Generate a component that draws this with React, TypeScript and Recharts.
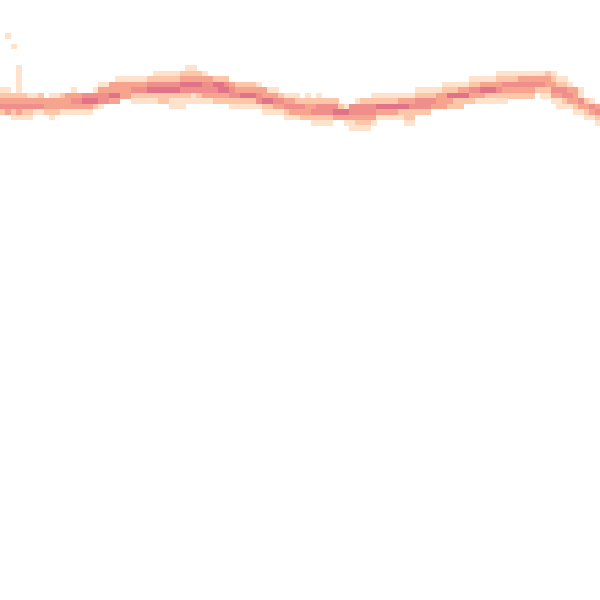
import { ScatterChart, Scatter, XAxis, YAxis } from "recharts";

// 110 x 110 bin density grid; each column: first occupied row + intensity levels (0 = empty)
const GRID = 110;
const SIZE = 600;

const columnStart: number[] = [
  16, 16, 17, 12, 17, 17, 17, 17, 17, 17, 17, 17, 17, 16, 17, 17, 17, 16, 15, 15,
  15, 14, 14, 14, 14, 14, 14, 14, 13, 13, 13, 13, 13, 13, 12, 12, 13, 13, 14, 14,
  14, 14, 15, 15, 15, 15, 15, 15, 16, 16, 16, 17, 17, 17, 17, 18, 17, 18, 17, 18,
  18, 18, 19, 19, 19, 18, 18, 18, 17, 17, 17, 17, 17, 17, 17, 17, 16, 16, 16, 16,
  16, 15, 15, 15, 15, 15, 14, 14, 14, 14, 14, 13, 13, 13, 13, 13, 13, 13, 13, 13,
  13, 13, 14, 14, 15, 16, 16, 18, 18, 19,
];

const columnLevels: string[] = [
  "12342", "12343", "23421", "1111123431", "23421", "13421", "1341", "2341", "0332", "13321",
  "1332", "2331", "3331", "13431", "3431", "4531", "4531", "1452", "13441", "1344",
  "3353", "13353", "1333", "1333", "13421", "13421", "13421", "24521", "124521", "124522",
  "124522", "1245211", "1245211", "2354211", "1235421", "1235411", "235421", "134431", "34431", "25432",
  "25532", "24532", "34421", "23421", "23521", "23521", "23521", "13441", "33521", "13521",
  "13431", "2431", "13421", "13431", "12431", "2432", "12332", "23421", "124421", "24421",
  "24421", "2453", "253", "1531", "44311", "144321", "244321", "244321", "124431", "12531",
  "12531", "12531", "12531", "13521", "135221", "134221", "12442", "12442", "12442", "1243",
  "1333", "12333", "12532", "12522", "13522", "1352", "12432", "12431", "13531", "13521",
  "13521", "123421", "124321", "12432", "12432", "13432", "13432", "13432", "1342", "13421",
  "23321", "123431", "124311", "124421", "13431", "33321", "11431", "2321", "1431", "3421",
];

const strayCells = [
  { col: 1, row: 6, level: 1 },
  { col: 2, row: 8, level: 1 },
];

const levelColors = ["transparent", "#fee2cb", "#fcc6a8", "#f7a48f", "#f08e8b", "#e07388"];

type CellPoint = { x: number; y: number; level: number };

const cells: CellPoint[] = [];
columnLevels.forEach((levels, col) => {
  levels.split("").forEach((ch, i) => {
    const level = Number(ch);
    if (level > 0) cells.push({ x: col + 0.5, y: columnStart[col] + i + 0.5, level });
  });
});
strayCells.forEach((c) => cells.push({ x: c.col + 0.5, y: c.row + 0.5, level: c.level }));

const cellSize = SIZE / GRID;

function HeatCell(props: any) {
  const { cx, cy, payload } = props;
  if (cx == null || cy == null) return null;
  return (
    <rect
      x={cx - cellSize / 2}
      y={cy - cellSize / 2}
      width={cellSize + 0.4}
      height={cellSize + 0.4}
      fill={levelColors[payload.level]}
      shapeRendering="crispEdges"
    />
  );
}

export default function App() {
  return (
    <div style={{ position: "absolute", left: 0, top: 0, width: SIZE, height: SIZE, background: "#fff" }}>
      <ScatterChart width={SIZE} height={SIZE} margin={{ top: 0, right: 0, bottom: 0, left: 0 }}>
        <XAxis type="number" dataKey="x" domain={[0, GRID]} hide allowDataOverflow />
        <YAxis type="number" dataKey="y" domain={[0, GRID]} reversed hide allowDataOverflow />
        <Scatter data={cells} shape={HeatCell} isAnimationActive={false} />
      </ScatterChart>
    </div>
  );
}
